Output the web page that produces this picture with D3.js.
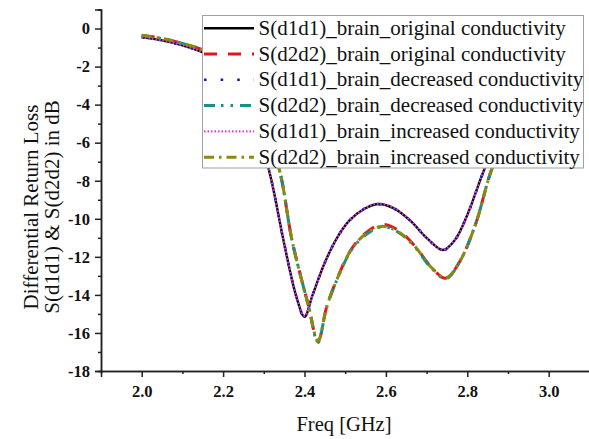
<!DOCTYPE html>
<html>
<head>
<meta charset="utf-8">
<script src="https://cdn.jsdelivr.net/npm/d3@7/dist/d3.min.js"></script>
<style>
  html, body { margin: 0; padding: 0; background: #fff; }
  svg { display: block; }
</style>
</head>
<body>
<svg id="chart" width="589" height="439"></svg>
<script>
// Frequency samples (GHz) and differential return loss (dB) per configuration
const freqD1 = [2.00, 2.05, 2.10, 2.15, 2.20, 2.25, 2.30, 2.32, 2.35, 2.38, 2.40, 2.42, 2.45, 2.48, 2.51, 2.545, 2.58, 2.62, 2.66, 2.70, 2.74, 2.77, 2.80, 2.84, 2.88, 2.94, 3.00];
const d1d1Original  = [-0.45, -0.62, -0.88, -1.25, -1.9, -3.2, -6.4, -8.1, -11.3, -14.1, -15.15, -14.0, -12.3, -11.0, -10.1, -9.5, -9.22, -9.45, -10.1, -11.0, -11.64, -11.1, -9.8, -7.5, -5.5, -3.5, -2.3];
const d1d1Decreased = [-0.46, -0.63, -0.89, -1.26, -1.9, -3.2, -6.4, -8.1, -11.3, -14.1, -15.2, -14.0, -12.3, -11.0, -10.1, -9.5, -9.24, -9.47, -10.1, -11.0, -11.66, -11.1, -9.8, -7.5, -5.5, -3.5, -2.3];
const d1d1Increased = [-0.45, -0.62, -0.88, -1.25, -1.9, -3.2, -6.4, -8.1, -11.3, -14.1, -15.1, -14.0, -12.3, -11.0, -10.1, -9.5, -9.2, -9.43, -10.1, -11.0, -11.62, -11.1, -9.8, -7.5, -5.5, -3.5, -2.3];

const freqD2 = [2.00, 2.05, 2.10, 2.15, 2.20, 2.25, 2.30, 2.337, 2.37, 2.41, 2.433, 2.455, 2.485, 2.515, 2.55, 2.59, 2.63, 2.67, 2.71, 2.747, 2.78, 2.82, 2.86, 2.90, 2.95, 3.00];
const d2d2Original  = [-0.35, -0.52, -0.78, -1.13, -1.8, -3.0, -5.3, -7.33, -11.2, -14.6, -16.46, -14.6, -12.9, -11.6, -10.75, -10.3, -10.6, -11.4, -12.5, -13.13, -12.3, -10.3, -7.4, -5.5, -3.6, -2.5];
const d2d2Decreased = [-0.36, -0.53, -0.79, -1.14, -1.8, -3.0, -5.3, -7.33, -11.2, -14.6, -16.5, -14.6, -12.95, -11.65, -10.85, -10.42, -10.7, -11.45, -12.55, -13.16, -12.3, -10.3, -7.4, -5.5, -3.6, -2.5];
const d2d2Increased = [-0.35, -0.52, -0.78, -1.13, -1.8, -3.0, -5.3, -7.33, -11.2, -14.6, -16.42, -14.6, -12.92, -11.62, -10.8, -10.4, -10.68, -11.42, -12.52, -13.1, -12.3, -10.3, -7.4, -5.5, -3.6, -2.5];

const legendLabels = [
  "S(d1d1)_brain_original conductivity",
  "S(d2d2)_brain_original conductivity",
  "S(d1d1)_brain_decreased conductivity",
  "S(d2d2)_brain_decreased conductivity",
  "S(d1d1)_brain_increased conductivity",
  "S(d2d2)_brain_increased conductivity"
];

const yMajorTicks = [0, -2, -4, -6, -8, -10, -12, -14, -16, -18];
const xMajorTicks = [2.0, 2.2, 2.4, 2.6, 2.8, 3.0];

const series = [
  { name: legendLabels[0], x: freqD1, y: d1d1Original,  color: "#000000", width: 2.4, dash: null },
  { name: legendLabels[1], x: freqD2, y: d2d2Original,  color: "#e8141c", width: 3,   dash: "13,11" },
  { name: legendLabels[2], x: freqD1, y: d1d1Decreased, color: "#1a1ab4", width: 2.6, dash: "2.6,14" },
  { name: legendLabels[3], x: freqD2, y: d2d2Decreased, color: "#18908a", width: 3,   dash: "11,6,2.5,7,2.5,7" },
  { name: legendLabels[4], x: freqD1, y: d1d1Increased, color: "#e040e8", width: 2.2, dash: "1.5,2" },
  { name: legendLabels[5], x: freqD2, y: d2d2Increased, color: "#8a8a10", width: 3,   dash: "10,5,2.5,5" }
];

const svg = d3.select("#chart");
const font = "\"Liberation Serif\", \"Times New Roman\", serif";

const x = d3.scaleLinear().domain([1.9, 3.1]).range([101, 589.4]);
const y = d3.scaleLinear().domain([-18, 1]).range([371, 9.5]);

// Curves
const line = d3.line()
  .x(d => x(d[0]))
  .y(d => y(d[1]))
  .curve(d3.curveCatmullRom.alpha(0.5));

const plot = svg.append("g");
series.forEach(s => {
  const pts = s.x.map((f, i) => [f, s.y[i]]);
  plot.append("path")
    .datum(pts)
    .attr("d", line)
    .attr("fill", "none")
    .attr("stroke", s.color)
    .attr("stroke-width", s.width)
    .attr("stroke-dasharray", s.dash)
    .attr("stroke-linejoin", "round");
});

// Axes
const axisColor = "#222";
const yAxis = d3.axisLeft(y).tickValues(yMajorTicks).tickFormat(d => String(d)).tickSize(6).tickPadding(5);
const yMinor = d3.axisLeft(y).tickValues(d3.range(-17, 2, 2)).tickFormat("").tickSize(3);
const xAxis = d3.axisBottom(x).tickValues(xMajorTicks).tickFormat(d3.format(".1f")).tickSize(6).tickPadding(8);
const xMinor = d3.axisBottom(x).tickValues([2.1, 2.3, 2.5, 2.7, 2.9, 3.1]).tickFormat("").tickSize(3);

function styleAxis(g) {
  g.select(".domain").attr("stroke", axisColor).attr("stroke-width", 1.5);
  g.selectAll(".tick line").attr("stroke", axisColor).attr("stroke-width", 1.5);
  g.selectAll(".tick text")
    .attr("fill", "#111")
    .style("font-family", font)
    .style("font-size", "16.5px")
    .style("font-weight", "bold");
}

svg.append("g").attr("transform", `translate(0,${y(-18)})`).call(xMinor).call(styleAxis);
svg.append("g").attr("transform", `translate(0,${y(-18)})`).call(xAxis).call(styleAxis);
svg.append("g").attr("transform", `translate(${x(1.9)},0)`).call(yMinor).call(styleAxis);
svg.append("g").attr("transform", `translate(${x(1.9)},0)`).call(yAxis).call(styleAxis);

// Axis titles
svg.append("text")
  .attr("x", 344).attr("y", 431)
  .attr("text-anchor", "middle")
  .style("font-family", font).style("font-size", "20.5px").attr("fill", "#111")
  .text("Freq [GHz]");

const yTitle = svg.append("text")
  .attr("transform", "translate(0,207) rotate(-90)")
  .attr("text-anchor", "middle")
  .style("font-family", font).style("font-size", "21px").attr("fill", "#111");
yTitle.append("tspan").attr("x", 0).attr("y", 38).text("Differential Return Loss");
yTitle.append("tspan").attr("x", 0).attr("y", 59).text("S(d1d1) & S(d2d2) in dB");

// Legend
const legend = svg.append("g");
legend.append("rect")
  .attr("x", 202.5).attr("y", 15.5).attr("width", 381).attr("height", 152.5)
  .attr("fill", "#fff").attr("stroke", "#a0a0a0").attr("stroke-width", 1);

const rowStep = 25.8;
series.forEach((s, i) => {
  const base = 34.7 + i * rowStep;
  legend.append("line")
    .attr("x1", 204).attr("x2", 254)
    .attr("y1", base - 6.5).attr("y2", base - 6.5)
    .attr("stroke", s.color).attr("stroke-width", s.width)
    .attr("stroke-dasharray", s.dash);
  legend.append("text")
    .attr("x", 258.5).attr("y", base)
    .style("font-family", font).style("font-size", "21px").attr("fill", "#111")
    .text(s.name);
});
</script>
</body>
</html>
